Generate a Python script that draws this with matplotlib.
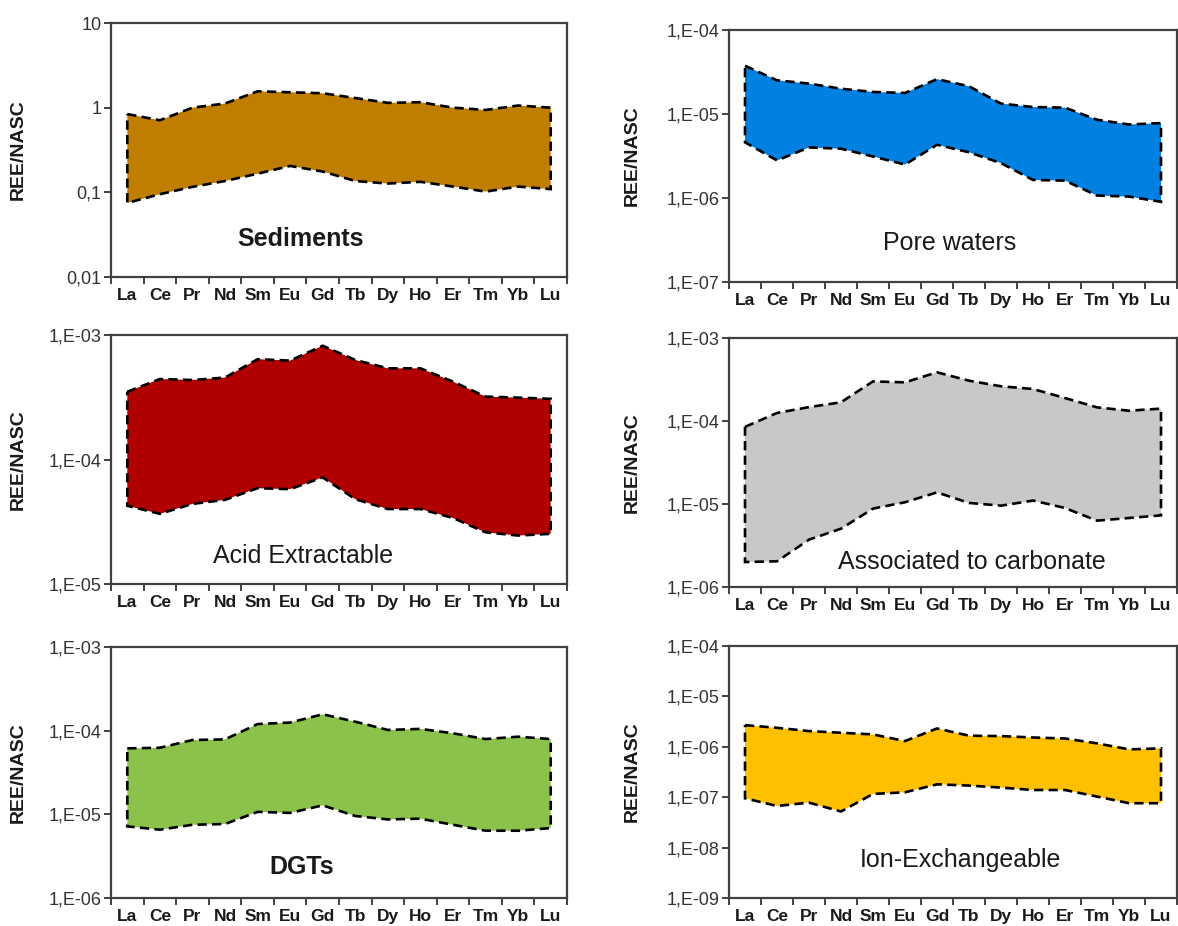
import numpy as np
import matplotlib
matplotlib.use("Agg")
import matplotlib.pyplot as plt
from matplotlib.ticker import FixedLocator, NullFormatter, FuncFormatter

plt.rcParams['font.family'] = ['Liberation Sans', 'DejaVu Sans']

ree = ["La", "Ce", "Pr", "Nd", "Sm", "Eu", "Gd", "Tb", "Dy", "Ho", "Er", "Tm", "Yb", "Lu"]

# NASC-normalised ranges (max / min) for each fraction
sed_max = [0.84, 0.71, 1.00, 1.12, 1.56, 1.52, 1.48, 1.30, 1.14, 1.16, 1.00, 0.94, 1.06, 1.00]
sed_min = [0.075, 0.095, 0.116, 0.136, 0.166, 0.205, 0.176, 0.136, 0.127, 0.133, 0.117, 0.102, 0.117, 0.109]

pore_max = [3.75e-5, 2.52e-5, 2.3e-5, 2.0e-5, 1.83e-5, 1.78e-5, 2.6e-5, 2.14e-5, 1.33e-5, 1.21e-5, 1.19e-5, 8.55e-6, 7.5e-6, 7.8e-6]
pore_min = [4.6e-6, 2.8e-6, 4.0e-6, 3.86e-6, 3.12e-6, 2.5e-6, 4.3e-6, 3.5e-6, 2.6e-6, 1.64e-6, 1.61e-6, 1.07e-6, 1.04e-6, 9.0e-7]

acid_max = [3.5e-4, 4.43e-4, 4.35e-4, 4.55e-4, 6.39e-4, 6.23e-4, 8.2e-4, 6.3e-4, 5.4e-4, 5.4e-4, 4.22e-4, 3.2e-4, 3.14e-4, 3.07e-4]
acid_min = [4.25e-5, 3.66e-5, 4.4e-5, 4.74e-5, 5.88e-5, 5.78e-5, 7.18e-5, 4.8e-5, 4.0e-5, 4.0e-5, 3.39e-5, 2.6e-5, 2.45e-5, 2.53e-5]

carb_max = [8.5e-5, 1.25e-4, 1.47e-4, 1.68e-4, 3.0e-4, 2.92e-4, 3.86e-4, 3.06e-4, 2.62e-4, 2.43e-4, 1.89e-4, 1.46e-4, 1.33e-4, 1.41e-4]
carb_min = [2.0e-6, 2.04e-6, 3.72e-6, 5.04e-6, 8.8e-6, 1.05e-5, 1.38e-5, 1.03e-5, 9.55e-6, 1.1e-5, 8.95e-6, 6.3e-6, 6.78e-6, 7.3e-6]

dgt_max = [6.14e-5, 6.25e-5, 7.73e-5, 7.87e-5, 1.2e-4, 1.25e-4, 1.57e-4, 1.28e-4, 1.02e-4, 1.05e-4, 9.3e-5, 7.94e-5, 8.47e-5, 7.94e-5]
dgt_min = [7.18e-6, 6.55e-6, 7.5e-6, 7.66e-6, 1.07e-5, 1.04e-5, 1.28e-5, 9.55e-6, 8.7e-6, 8.87e-6, 7.5e-6, 6.37e-6, 6.37e-6, 6.85e-6]

ion_max = [2.69e-6, 2.38e-6, 2.05e-6, 1.9e-6, 1.76e-6, 1.3e-6, 2.31e-6, 1.66e-6, 1.63e-6, 1.53e-6, 1.46e-6, 1.17e-6, 8.9e-7, 9.3e-7]
ion_min = [9.5e-8, 6.7e-8, 7.8e-8, 5.2e-8, 1.16e-7, 1.25e-7, 1.8e-7, 1.7e-7, 1.55e-7, 1.39e-7, 1.39e-7, 1.03e-7, 7.6e-8, 7.6e-8]

W, H = 1178, 926


def sci_label(v, pos):
    e = int(round(np.log10(v)))
    return "1,E-%02d" % -e


def plain_label(v, pos):
    return {10: "10", 1: "1", 0.1: "0,1", 0.01: "0,01"}.get(round(v, 2), "")


def panel(box, ymax, ymin, color, title, tx, ty, ylim, fmt, bold, label_x):
    x0, y0, x1, y1 = box
    ax = fig.add_axes([x0 / W, 1 - y1 / H, (x1 - x0) / W, (y1 - y0) / H])
    x = np.arange(len(ree)) + 0.5
    px = np.concatenate([x, x[::-1]])
    py = np.concatenate([ymax, ymin[::-1]])
    ax.fill(px, py, facecolor=color, edgecolor="black", linestyle=(0, (3.5, 2)),
            linewidth=1.9, closed=True, zorder=2)
    ax.set_yscale("log")
    ax.set_ylim(*ylim)
    ax.set_xlim(0, len(ree))
    decades = 10.0 ** np.arange(np.log10(ylim[0]), np.log10(ylim[1]) + 0.5)
    ax.yaxis.set_major_locator(FixedLocator(decades))
    ax.yaxis.set_minor_locator(FixedLocator([]))
    ax.yaxis.set_major_formatter(FuncFormatter(fmt))
    ax.set_xticks(np.arange(len(ree) + 1))
    ax.xaxis.set_major_formatter(NullFormatter())
    ax.set_xticks(x, minor=True)
    ax.set_xticklabels(ree, minor=True, fontweight="bold", fontsize=12.5, color="#1a1a1a")
    ax.tick_params(axis="x", which="minor", length=0, pad=8)
    ax.tick_params(axis="x", which="major", length=5, width=1.4, color="#404040", direction="out")
    ax.tick_params(axis="y", which="major", length=5, width=1.4, color="#404040",
                   labelsize=13, labelcolor="#333333", pad=2)
    for s in ax.spines.values():
        s.set_color("#404040")
        s.set_linewidth(1.6)
    ax.set_ylabel("REE/NASC", fontweight="bold", fontsize=14, color="#1a1a1a")
    ax.yaxis.set_label_coords((label_x - x0) / (x1 - x0), 0.5)
    ax.text((tx - x0) / (x1 - x0), 1 - (ty - y0) / (y1 - y0), title, transform=ax.transAxes,
            ha="center", va="center", fontsize=18, color="#1a1a1a",
            fontweight="bold" if bold else "normal")
    return ax


fig = plt.figure(figsize=(W / 100, H / 100), dpi=100)

panel((111, 23, 567, 277), sed_max, sed_min, "#BF7E00", "Sediments", 301, 239,
      (0.01, 10), plain_label, True, 27)
panel((729, 30, 1177, 282), pore_max, pore_min, "#0080E0", "Pore waters", 950, 243,
      (1e-7, 1e-4), sci_label, False, 641)
panel((111, 335, 567, 584), acid_max, acid_min, "#B00000", "Acid Extractable", 303, 556,
      (1e-5, 1e-3), sci_label, False, 27)
panel((729, 338, 1177, 587), carb_max, carb_min, "#C8C8C8", "Associated to carbonate", 972, 562,
      (1e-6, 1e-3), sci_label, False, 641)
panel((111, 647, 567, 898), dgt_max, dgt_min, "#8BC24C", "DGTs", 302, 867,
      (1e-6, 1e-3), sci_label, True, 27)
panel((729, 646, 1177, 898), ion_max, ion_min, "#FFC000", "Ion-Exchangeable", 960, 860,
      (1e-9, 1e-4), sci_label, False, 641)

fig.savefig("out.png", dpi=100)
